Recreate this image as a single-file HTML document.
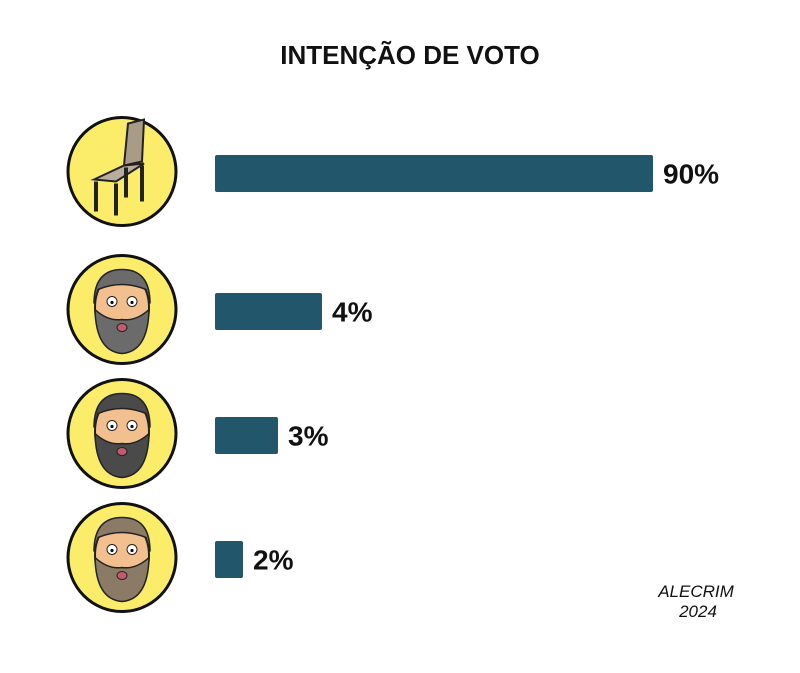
<!DOCTYPE html>
<html><head><meta charset="utf-8"><style>
body{margin:0;background:#fff;}
svg{display:block;font-family:"Liberation Sans",sans-serif;}
</style></head><body>
<svg id="chart" width="800" height="673" viewBox="0 0 800 673">
<text x="410" y="64" text-anchor="middle" font-size="26" font-weight="bold" fill="#111">INTENÇÃO DE VOTO</text>
<g id="bars"></g>
<g id="portraits"></g>
<text x="696" y="597" text-anchor="middle" font-size="17" fill="#111" font-style="italic">ALECRIM</text>
<text x="698" y="617" text-anchor="middle" font-size="17" fill="#111" font-style="italic">2024</text>
</svg>
<script>
const categories = ['chair', 'candidate-a', 'candidate-b', 'candidate-c'];
const values = [90, 4, 3, 2];
const valueLabels = ['90%', '4%', '3%', '2%'];
// cartoon (non-linear) axis: polylinear scale
const scaleDomain = [0, 2, 3, 4, 90];
const scaleRange = [0, 28, 63, 107, 438];
const x0 = 215, barH = 37;
function xScale(v){
  for(let i=1;i<scaleDomain.length;i++){
    if(v<=scaleDomain[i]||i===scaleDomain.length-1){
      const d0=scaleDomain[i-1],d1=scaleDomain[i],r0=scaleRange[i-1],r1=scaleRange[i];
      return r0+(v-d0)/(d1-d0)*(r1-r0);
    }
  }
}
function yScale(i){return i===0?155:293+(i-1)*124;}
const NS='http://www.w3.org/2000/svg';
const bars=document.getElementById('bars'), por=document.getElementById('portraits');
function mk(tag,attrs,parent){const e=document.createElementNS(NS,tag);for(const k in attrs)e.setAttribute(k,attrs[k]);parent.appendChild(e);return e;}
const hair=['#6b6b6b','#4a4a4a','#8a7a66'];
categories.forEach((c,i)=>{
  const y=yScale(i), w=xScale(values[i]);
  const r=mk('rect',{x:x0,y:y,width:w,height:barH,rx:2,fill:'#22566b'},bars);
  
  
  const t=mk('text',{x:x0+w+10,y:y+barH/2+10,'font-size':28,'font-weight':'bold',fill:'#111'},bars);
  t.textContent=valueLabels[i];
  
  
  const cy=y+barH/2-2, cx=122;
  const g=mk('g',{},por);
  
  
  mk('circle',{cx:cx,cy:cy,r:54,fill:'#fbed6a',stroke:'#111','stroke-width':3},g);
  if(i===0){
    // back
    mk('path',{d:`M${cx+2} ${cy-6} L${cx+6} ${cy-48} L${cx+22} ${cy-52} L${cx+20} ${cy-10} Z`,fill:'#a89c88',stroke:'#222','stroke-width':2},g);
    // seat
    mk('path',{d:`M${cx-28} ${cy+8} L${cx+2} ${cy-6} L${cx+22} ${cy-8} L${cx-6} ${cy+10} Z`,fill:'#b8ad9c',stroke:'#222','stroke-width':2},g);
    // legs
    mk('path',{d:`M${cx-26} ${cy+10} L${cx-26} ${cy+40} M${cx-6} ${cy+12} L${cx-6} ${cy+44} M${cx+20} ${cy-6} L${cx+20} ${cy+30} M${cx+4} ${cy-4} L${cx+4} ${cy+26}`,stroke:'#222','stroke-width':4,fill:'none'},g);
  } else {
    const hc=hair[i-1];
    mk('ellipse',{cx:cx,cy:cy-2,rx:27,ry:36,fill:'#f2c08f',stroke:'#222','stroke-width':2},g);
    mk('path',{d:`M${cx-28} ${cy-6} Q${cx-28} ${cy-40} ${cx} ${cy-40} Q${cx+28} ${cy-40} ${cx+28} ${cy-6} L${cx+24} ${cy-20} Q${cx} ${cy-30} ${cx-24} ${cy-20} Z`,fill:hc,stroke:'#222','stroke-width':1.5},g);
    mk('path',{d:`M${cx-27} ${cy} Q${cx-26} ${cy+42} ${cx} ${cy+44} Q${cx+26} ${cy+42} ${cx+27} ${cy} Q${cx+14} ${cy+12} ${cx} ${cy+10} Q${cx-14} ${cy+12} ${cx-27} ${cy} Z`,fill:hc,stroke:'#222','stroke-width':1.5},g);
    mk('circle',{cx:cx-10,cy:cy-8,r:5,fill:'#fff',stroke:'#222'},g);
    mk('circle',{cx:cx+10,cy:cy-8,r:5,fill:'#fff',stroke:'#222'},g);
    mk('circle',{cx:cx-10,cy:cy-7,r:1.6,fill:'#111'},g);
    mk('circle',{cx:cx+10,cy:cy-7,r:1.6,fill:'#111'},g);
    mk('ellipse',{cx:cx,cy:cy+18,rx:5,ry:4,fill:'#c35a6e',stroke:'#222'},g);
  }
});
</script>
</body></html>
